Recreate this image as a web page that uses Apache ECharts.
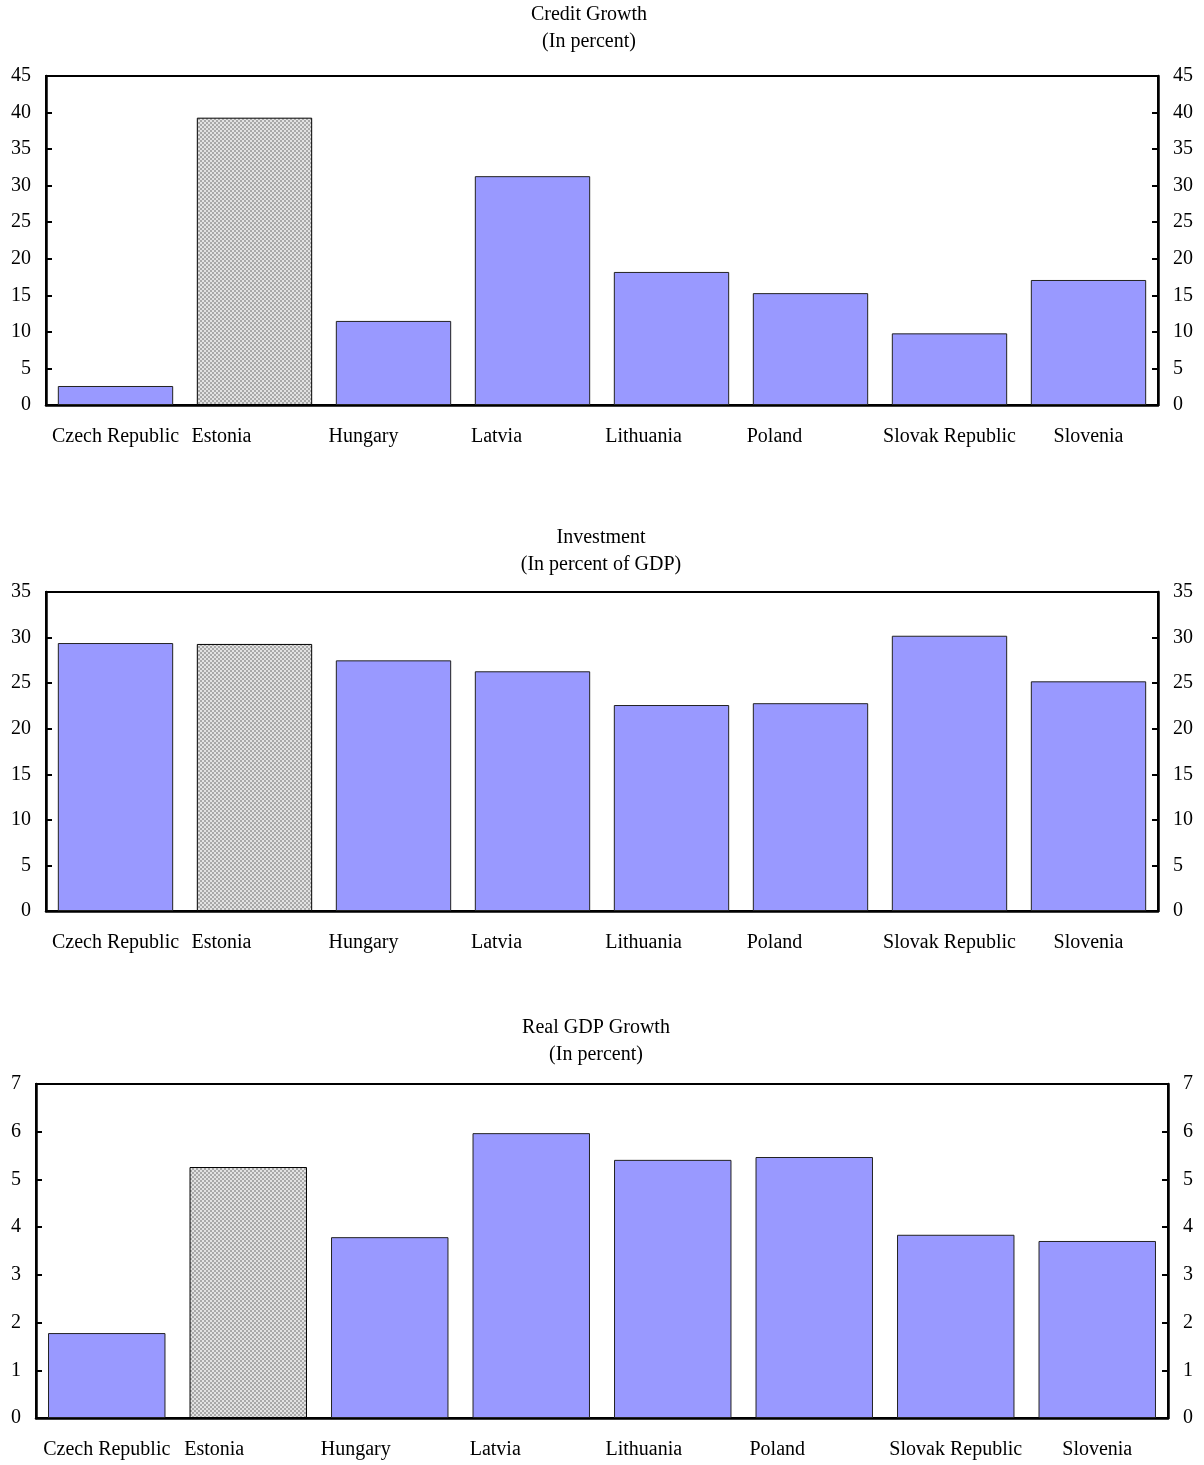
<!DOCTYPE html>
<html>
<head>
<meta charset="utf-8">
<script src="https://cdn.jsdelivr.net/npm/echarts@6/dist/echarts.min.js"></script>
<style>
  html, body { margin: 0; padding: 0; background: #fff; }
  #main { width: 1204px; height: 1465px; }
</style>
</head>
<body>
<div id="main"></div>
<script>
// categories and values
var countries = ['Czech Republic', 'Estonia', 'Hungary', 'Latvia', 'Lithuania', 'Poland', 'Slovak Republic', 'Slovenia'];
var creditGrowth = [2.6, 39.3, 11.5, 31.3, 18.2, 15.3, 9.8, 17.1];
var investment = [29.4, 29.3, 27.5, 26.3, 22.6, 22.8, 30.2, 25.2];
var gdpGrowth = [1.78, 5.26, 3.79, 5.97, 5.41, 5.47, 3.84, 3.71];
var highlight = 'Estonia';

var FONT = "'Liberation Serif', 'Times New Roman', serif";

// checkerboard fill for the highlighted bar
function makePattern() {
    var c = document.createElement('canvas');
    c.width = 4; c.height = 4;
    var ctx = c.getContext('2d');
    ctx.fillStyle = '#e2e2e2';
    ctx.fillRect(0, 0, 4, 4);
    ctx.fillStyle = '#a8a8a8';
    ctx.fillRect(0, 0, 2, 2);
    ctx.fillRect(2, 2, 2, 2);
    return c;
}
var pattern = { image: makePattern(), repeat: 'repeat' };

// label nudges (px) so the category names sit like the original
var shiftTop = [0, -33, -30, -36, -28, -36, 0, 0];
var shiftBottom = [0, -34, -34, -36, -29, -37, 0, 0];

function labelRich(shift) {
    var rich = {};
    for (var i = 0; i < shift.length; i++) {
        var s = shift[i];
        rich['s' + i] = {
            fontFamily: FONT, fontSize: 20, color: '#000',
            padding: s < 0 ? [0, -2 * s, 0, 0] : [0, 0, 0, 2 * s]
        };
    }
    return rich;
}

function barData(values) {
    return values.map(function (v, i) {
        if (countries[i] === highlight) {
            return { value: v, itemStyle: { color: pattern, borderColor: '#000', borderWidth: 1 } };
        }
        return v;
    });
}

var panels = [
    { title: 'Credit Growth\n(In percent)', tx: 589, ty: 1, values: creditGrowth, max: 45, step: 5,
      grid: { left: 46, right: 46, top: 76, height: 329 }, shift: shiftTop, margin: 22 },
    { title: 'Investment\n(In percent of GDP)', tx: 601, ty: 524, values: investment, max: 35, step: 5,
      grid: { left: 46, right: 46, top: 592, height: 319 }, shift: shiftTop, margin: 22 },
    { title: 'Real GDP Growth\n(In percent)', tx: 596, ty: 1014, values: gdpGrowth, max: 7, step: 1,
      grid: { left: 36, right: 36, top: 1084, height: 334 }, shift: shiftBottom, margin: 22 }
];

var option = {
    backgroundColor: '#fff',
    animation: false,
    title: [], grid: [], xAxis: [], yAxis: [], series: []
};

panels.forEach(function (p, k) {
    option.title.push({
        text: p.title, left: p.tx, top: p.ty, textAlign: 'center', padding: 0,
        textStyle: { fontFamily: FONT, fontSize: 20, fontWeight: 'normal', color: '#000', lineHeight: 27 }
    });
    option.grid.push({
        left: p.grid.left, right: p.grid.right, top: p.grid.top, height: p.grid.height,
        show: true, borderColor: '#000', borderWidth: 2, backgroundColor: 'transparent'
    });
    var rich = labelRich(p.shift);
    option.xAxis.push({
        type: 'category', gridIndex: k, data: countries,
        axisLine: { lineStyle: { color: '#000', width: 2.5 } },
        axisTick: { inside: true, length: 6, lineStyle: { color: '#000', width: 2 } },
        axisLabel: {
            interval: 0, margin: p.margin,
            formatter: function (v, i) { return '{s' + i + '|' + v + '}'; },
            rich: rich
        }
    });
    var yBase = {
        type: 'value', gridIndex: k, min: 0, max: p.max, interval: p.step,
        splitLine: { show: false },
        axisLine: { show: true, lineStyle: { color: '#000', width: 2.5 } },
        axisTick: { show: true, inside: true, length: 6, lineStyle: { color: '#000', width: 2 } },
        axisLabel: { fontFamily: FONT, fontSize: 20, color: '#000', margin: 15 }
    };
    option.yAxis.push(Object.assign({}, yBase, { position: 'left' }));
    option.yAxis.push(Object.assign({}, yBase, { position: 'right' }));
    option.series.push({
        type: 'bar', xAxisIndex: k, yAxisIndex: 2 * k,
        data: barData(p.values),
        barCategoryGap: '17%',
        itemStyle: { color: '#9999ff', borderColor: '#222', borderWidth: 1 }
    });
});

var myChart = echarts.init(document.getElementById('main'));
myChart.setOption(option);
</script>
</body>
</html>
